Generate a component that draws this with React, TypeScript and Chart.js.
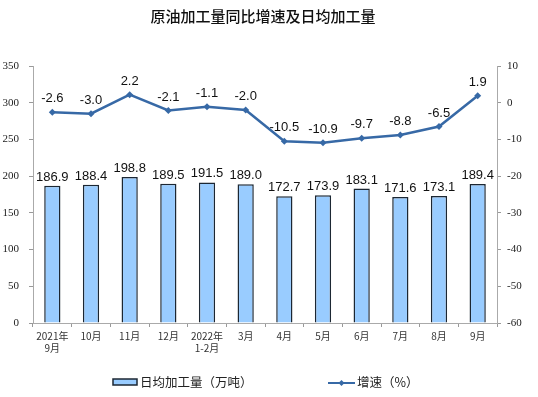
import React, { useEffect, useRef } from "react";
import { Chart, registerables } from "chart.js";

Chart.register(...registerables);

const categories: (string | string[])[] = [
  ["2021年", "9月"], "10月", "11月", "12月", ["2022年", "1-2月"], "3月", "4月", "5月", "6月", "7月", "8月", "9月",
];
const dailyOutput = [186.9, 188.4, 198.8, 189.5, 191.5, 189.0, 172.7, 173.9, 183.1, 171.6, 173.1, 189.4];
const growthRate = [-2.6, -3.0, 2.2, -2.1, -1.1, -2.0, -10.5, -10.9, -9.7, -8.8, -6.5, 1.9];
const titleText = "原油加工量同比增速及日均加工量";
const barLegend = "日均加工量（万吨）";
const lineLegend = "增速（%）";

const BAR_FILL = "#99CCFF";
const BAR_BORDER = "#1c2733";
const LINE_COLOR = "#3769a6";
const CJK = '"Noto Sans CJK SC", sans-serif';
const SERIF = "Liberation Serif";
const SANS = '"Liberation Sans", Arial, sans-serif';

const labelPlugin = {
  id: "customLabels",
  afterDatasetsDraw(chart: any) {
    const ctx = chart.ctx;
    ctx.save();
    ctx.font = `13px ${SANS}`;
    ctx.fillStyle = "#111";
    ctx.textAlign = "center";
    ctx.textBaseline = "bottom";
    const barMeta = chart.getDatasetMeta(1);
    barMeta.data.forEach((el: any, i: number) => {
      ctx.fillText(dailyOutput[i].toFixed(1), el.x, el.y - 2);
    });
    const lineMeta = chart.getDatasetMeta(0);
    lineMeta.data.forEach((el: any, i: number) => {
      ctx.fillText(growthRate[i].toFixed(1), el.x, el.y - 7);
    });
    ctx.restore();
  },
  afterDraw(chart: any) {
    const ctx = chart.ctx;
    ctx.save();
    // title
    ctx.font = `500 15px ${CJK}`;
    ctx.fillStyle = "#111";
    ctx.textAlign = "center";
    ctx.textBaseline = "middle";
    ctx.fillText(titleText, 263, 16);
    // legend
    const ly = 382;
    ctx.fillStyle = BAR_FILL;
    ctx.fillRect(113, ly - 3, 24, 6);
    ctx.strokeStyle = BAR_BORDER;
    ctx.lineWidth = 1.5;
    ctx.strokeRect(113, ly - 3, 24, 6);
    ctx.font = `12.5px ${CJK}`;
    ctx.fillStyle = "#222";
    ctx.textAlign = "left";
    ctx.fillText(barLegend, 140, ly);
    ctx.strokeStyle = LINE_COLOR;
    ctx.lineWidth = 2;
    ctx.beginPath();
    ctx.moveTo(328, ly + 1);
    ctx.lineTo(355, ly + 1);
    ctx.stroke();
    ctx.fillStyle = LINE_COLOR;
    ctx.beginPath();
    ctx.moveTo(341.5, ly - 2);
    ctx.lineTo(344.5, ly + 1);
    ctx.lineTo(341.5, ly + 4);
    ctx.lineTo(338.5, ly + 1);
    ctx.closePath();
    ctx.fill();
    ctx.fillStyle = "#222";
    ctx.fillText(lineLegend, 357, ly);
    ctx.restore();
  },
};

export default function App() {
  const ref = useRef<HTMLCanvasElement | null>(null);
  useEffect(() => {
    if (!ref.current) return;
    const chart = new Chart(ref.current, {
      type: "bar",
      data: {
        labels: categories as any,
        datasets: [
          {
            type: "line",
            label: lineLegend,
            data: growthRate,
            yAxisID: "y1",
            borderColor: LINE_COLOR,
            backgroundColor: LINE_COLOR,
            borderWidth: 2.5,
            pointStyle: "rectRot",
            pointRadius: 3.5,
            pointBackgroundColor: LINE_COLOR,
            pointBorderWidth: 0,
            tension: 0,
            order: 0,
          } as any,
          {
            type: "bar",
            label: barLegend,
            data: dailyOutput,
            yAxisID: "y",
            backgroundColor: BAR_FILL,
            borderColor: BAR_BORDER,
            borderWidth: 1.5,
            barPercentage: 0.42,
            categoryPercentage: 1,
            order: 1,
          },
        ],
      },
      options: {
        animation: false,
        responsive: false,
        layout: { padding: { top: 66, bottom: 30, left: 0, right: 0 } },
        plugins: {
          legend: { display: false },
          title: { display: false },
          tooltip: { enabled: false },
        },
        scales: {
          x: {
            grid: {
              display: true,
              drawOnChartArea: false,
              offset: true,
              tickLength: 4,
              color: "#999",
            },
            border: { color: "#aaa" },
            ticks: {
              font: { family: CJK, size: 10 },
              color: "#333",
              maxRotation: 0,
              autoSkip: false,
              padding: 3,
            },
            afterFit: (s: any) => {
              s.height = 44;
            },
          },
          y: {
            position: "left",
            min: 0,
            max: 350,
            ticks: {
              stepSize: 50,
              font: { family: SERIF, size: 11 },
              color: "#222",
              padding: 10,
            },
            grid: { drawOnChartArea: false, tickLength: 4, color: "#999" },
            border: { color: "#aaa" },
            afterFit: (s: any) => {
              s.width = 33;
            },
          },
          y1: {
            position: "right",
            min: -60,
            max: 10,
            ticks: {
              stepSize: 10,
              font: { family: SERIF, size: 11 },
              color: "#222",
              padding: 6,
            },
            grid: { drawOnChartArea: false, tickLength: 4, color: "#999" },
            border: { color: "#aaa" },
            afterFit: (s: any) => {
              s.width = 41;
            },
          },
        },
      },
      plugins: [labelPlugin],
    });
    return () => chart.destroy();
  }, []);
  return (
    <div style={{ position: "absolute", left: 0, top: 0, width: 538, height: 397, background: "#fff" }}>
      <canvas ref={ref} width={538} height={397} style={{ width: 538, height: 397 }} />
    </div>
  );
}
